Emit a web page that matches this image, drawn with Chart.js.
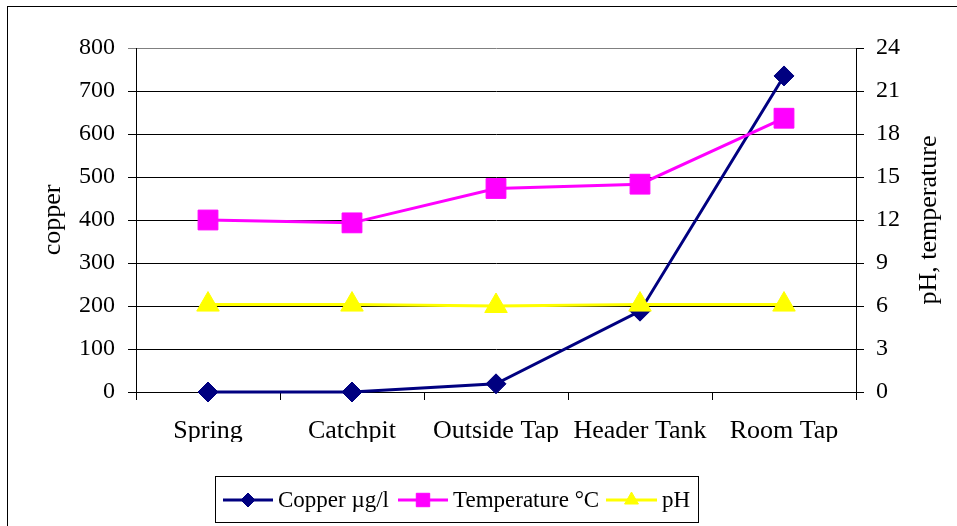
<!DOCTYPE html>
<html>
<head>
<meta charset="utf-8">
<title>Copper, temperature and pH by sampling point</title>
<script src="https://cdn.jsdelivr.net/npm/chart.js@4/dist/chart.umd.min.js"></script>
<style>
  html, body { margin: 0; padding: 0; background: #fff; }
  #wrap { position: relative; width: 957px; height: 526px; overflow: hidden; }
  #frame { position: absolute; left: 7px; top: 6px; right: -2px; bottom: -2px;
           border-top: 1px solid #000; border-left: 1px solid #000; pointer-events: none; }
  canvas { position: absolute; left: 0; top: 0; }
</style>
</head>
<body>
<div id="wrap">
  <canvas id="chart" width="957" height="526"></canvas>
  <div id="frame"></div>
</div>
<script>
// Sampling points along the supply
const sites = ['Spring', 'Catchpit', 'Outside Tap', 'Header Tank', 'Room Tap'];

// Measured values at each point
const copperUgL = [0, 0, 19, 188, 735];
const temperatureC = [12.0, 11.8, 14.2, 14.5, 19.1];
const pH = [6.1, 6.1, 6.0, 6.1, 6.1];

// Series labels
const seriesLabels = ['Copper \u00b5g/l', 'Temperature \u00b0C', 'pH'];

// Axis ticks and titles
const copperTicks = { min: 0, max: 800, step: 100 };
const rightTicks = { min: 0, max: 24, step: 3 };
const leftTitle = 'copper';
const rightTitle = 'pH, temperature';

const FONT = 'Liberation Serif, "Times New Roman", serif';

const seriesStyle = [
  { color: '#000080', pointStyle: 'rectRot', radius: 10, legendRadius: 7 },
  { color: '#FF00FF', pointStyle: 'rect', radius: 14, legendRadius: 9.5 },
  { color: '#FFFF00', pointStyle: 'triangle', radius: 13, legendRadius: 8 }
];

// Right-hand axis title, reading bottom to top
const rightAxisTitle = {
  id: 'rightAxisTitle',
  afterDraw(chart) {
    const ctx = chart.ctx;
    const area = chart.chartArea;
    ctx.save();
    ctx.translate(929, (area.top + area.bottom) / 2);
    ctx.rotate(-Math.PI / 2);
    ctx.fillStyle = '#000';
    ctx.font = '26px ' + FONT;
    ctx.textAlign = 'center';
    ctx.textBaseline = 'middle';
    ctx.fillText(rightTitle, 0, 0);
    ctx.restore();
  }
};

// Boxed legend below the plot, each entry a line with its marker
const boxLegend = {
  id: 'boxLegend',
  afterDraw(chart) {
    const ctx = chart.ctx;
    ctx.save();
    ctx.strokeStyle = '#000';
    ctx.lineWidth = 1;
    ctx.strokeRect(215.5, 476.5, 483, 46);
    const items = [
      { x1: 223, x2: 273, tx: 278 },
      { x1: 398, x2: 448, tx: 453 },
      { x1: 606, x2: 657, tx: 662 }
    ];
    const y = 500;
    chart.data.datasets.forEach((ds, i) => {
      const it = items[i];
      const st = seriesStyle[i];
      ctx.strokeStyle = st.color;
      ctx.lineWidth = 3;
      ctx.beginPath();
      ctx.moveTo(it.x1, y);
      ctx.lineTo(it.x2, y);
      ctx.stroke();
      ctx.fillStyle = st.color;
      ctx.strokeStyle = st.color;
      ctx.lineWidth = 1;
      Chart.helpers.drawPoint(ctx, { pointStyle: st.pointStyle, radius: st.legendRadius, rotation: 0, borderWidth: 1 },
        (it.x1 + it.x2) / 2, y);
      ctx.fillStyle = '#000';
      ctx.font = '23px ' + FONT;
      ctx.textBaseline = 'alphabetic';
      ctx.textAlign = 'left';
      ctx.fillText(ds.label, it.tx, 507);
    });
    ctx.restore();
  }
};

const datasets = [copperUgL, temperatureC, pH].map((values, i) => ({
  label: seriesLabels[i],
  data: values,
  yAxisID: i === 0 ? 'yCopper' : 'yRight',
  borderColor: seriesStyle[i].color,
  backgroundColor: seriesStyle[i].color,
  pointBackgroundColor: seriesStyle[i].color,
  pointBorderColor: seriesStyle[i].color,
  pointStyle: seriesStyle[i].pointStyle,
  pointRadius: seriesStyle[i].radius,
  pointHoverRadius: seriesStyle[i].radius,
  pointBorderWidth: 1,
  borderWidth: 3,
  tension: 0,
  fill: false,
  clip: false,
  order: 2 - i
}));

new Chart(document.getElementById('chart'), {
  type: 'line',
  data: { labels: sites, datasets },
  plugins: [boxLegend, rightAxisTitle],
  options: {
    responsive: false,
    devicePixelRatio: 1,
    animation: false,
    layout: { padding: { top: 48, bottom: 84, left: 0, right: 0 } },
    plugins: { legend: { display: false }, tooltip: { enabled: false } },
    scales: {
      x: {
        type: 'category',
        offset: true,
        grid: { offset: true, drawOnChartArea: false, drawTicks: true, tickLength: 8, color: '#000', lineWidth: 1 },
        border: { display: true, color: '#000', width: 1 },
        ticks: { color: '#000', font: { family: FONT, size: 26 }, padding: 16, maxRotation: 0, autoSkip: false },
        afterFit(scale) { scale.height = 50; }
      },
      yCopper: {
        position: 'left',
        min: copperTicks.min, max: copperTicks.max,
        ticks: { stepSize: copperTicks.step, color: '#000', font: { family: FONT, size: 24 }, padding: 13 },
        grid: {
          color: ctx => (ctx.tick && ctx.tick.value === copperTicks.max ? '#808080' : '#000'),
          lineWidth: 1, tickLength: 8
        },
        border: { display: true, color: '#000', width: 1 },
        title: { display: true, text: leftTitle, color: '#000', font: { family: FONT, size: 26 }, padding: { top: 38, bottom: 0 } },
        afterFit(scale) { scale.width = 136; }
      },
      yRight: {
        position: 'right',
        min: rightTicks.min, max: rightTicks.max,
        ticks: { stepSize: rightTicks.step, color: '#000', font: { family: FONT, size: 24 }, padding: 12 },
        grid: { drawOnChartArea: false, color: '#000', lineWidth: 1, tickLength: 8 },
        border: { display: true, color: '#000', width: 1 },
        afterFit(scale) { scale.width = 101; }
      }
    }
  }
});
</script>
</body>
</html>
